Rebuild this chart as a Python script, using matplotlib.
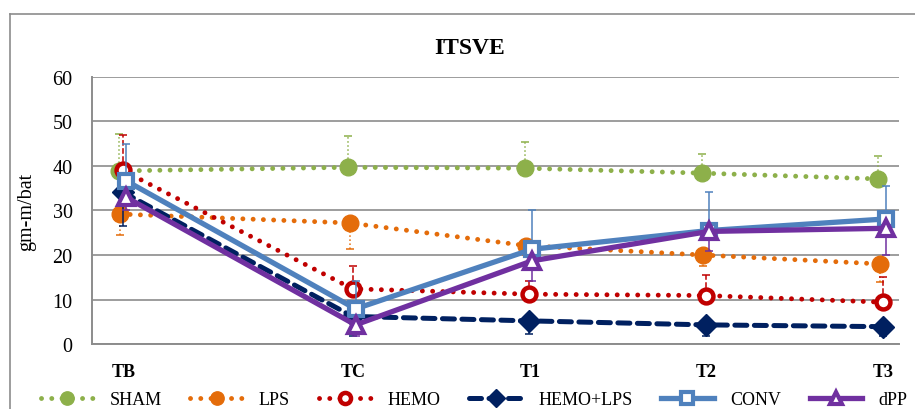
import numpy as np
import matplotlib.pyplot as plt
from matplotlib.lines import Line2D

plt.rcParams['font.family'] = ['Liberation Serif', 'DejaVu Serif']

# data
cats = ['TB', 'TC', 'T1', 'T2', 'T3']
cat_x = np.array([0, 1.3, 2.3, 3.3, 4.3])

sham = [38.9, 39.7, 39.5, 38.4, 37.1]
sham_up = [8.3, 7.1, 5.8, 4.2, 5.1]
lps = [29.2, 27.2, 22.1, 20.0, 18.0]
lps_dn = [4.6, 5.9, 2.0, 2.4, 4.0]
hemo = [39.0, 12.4, 11.2, 10.9, 9.4]
hemo_up = [8.0, 5.2, 3.0, 4.6, 5.6]
hemolps = [34.1, 6.2, 5.2, 4.3, 3.9]
hemolps_dn = [7.5, 4.4, 3.0, 2.5, 2.2]
conv = [36.7, 7.9, 21.3, 25.5, 28.1]
conv_up = [8.2, 6.3, 8.7, 8.6, 7.5]
dpp = [33.0, 4.3, 18.7, 25.3, 26.0]
dpp_dn = [3.0, 2.6, 4.5, 4.3, 6.0]

fig = plt.figure(figsize=(9.15, 4.1), dpi=100)
ax = fig.add_axes([0.1005, 0.1585, 0.882, 0.6513])

# outer chart border
fig.add_artist(Line2D([0.011, 0.011], [0, 1 - 15/410], color='#8c8c8c', lw=1.2, transform=fig.transFigure))
fig.add_artist(Line2D([0.011, 1], [1 - 15/410, 1 - 15/410], color='#8c8c8c', lw=1.2, transform=fig.transFigure))

dots = (0, (0.01, 2.1))
series = [
    # name, y, err, side, dx, color, ls, lw, marker, ms, mfc, mew, err ls
    ('SHAM', sham, sham_up, 'up', -0.006, '#8DB04A', dots, 3.5, 'o', 12, '#8DB04A', 1, ':'),
    ('LPS', lps, lps_dn, 'dn', 0.0, '#E46C0A', dots, 3.5, 'o', 12, '#E46C0A', 1, ':'),
    ('HEMO', hemo, hemo_up, 'up', 0.017, '#C00000', dots, 3.5, 'o', 10, 'white', 3.2, '--'),
    ('HEMO+LPS', hemolps, hemolps_dn, 'dn', 0.017, '#002060', (0, (2.4, 1.5)), 3.6, 'D', 11.5, '#002060', 1, '-'),
    ('CONV', conv, conv_up, 'up', 0.034, '#4F81BD', '-', 3.8, 's', 10, 'white', 3.0, '-'),
    ('dPP', dpp, dpp_dn, 'dn', 0.034, '#7030A0', '-', 3.8, '^', 11.5, 'white', 3.0, '-'),
]

handles = []
for i, (name, y, err, side, dx, c, ls, lw, mk, ms, mfc, mew, els) in enumerate(series):
    x = cat_x + dx
    err = np.array(err)
    zero = np.zeros_like(err)
    yerr = [zero, err] if side == 'up' else [err, zero]
    eb = ax.errorbar(x, y, yerr=yerr, fmt='none', ecolor=c, elinewidth=1.1,
                     capsize=3, capthick=1.1, zorder=3 + i * 2)
    eb[2][0].set_linestyle(els)
    h, = ax.plot(x, y, color=c, linestyle=ls, lw=lw, marker=mk, ms=ms,
                 mfc=mfc, mec=c, mew=mew, dash_capstyle='round',
                 zorder=4 + i * 2, label=name)
    handles.append(h)

ax.set_xlim(-0.158, 4.41)
ax.set_ylim(0, 60)
ax.set_yticks(range(0, 61, 10))
ax.set_xticks(cat_x + 0.02)
ax.set_xticklabels(cats, fontweight='bold', fontsize=13)
ax.tick_params(axis='both', length=0)
ax.tick_params(axis='y', labelsize=14.5, pad=14)
ax.tick_params(axis='x', pad=14)
ax.grid(axis='y', color='#8c8c8c', lw=1.2)
ax.set_axisbelow(True)
for s in ['top', 'right']:
    ax.spines[s].set_visible(False)
for s in ['left', 'bottom']:
    ax.spines[s].set_color('#8c8c8c')
    ax.spines[s].set_linewidth(1.4)

ax.set_ylabel('gm-m/bat', fontsize=14.5, labelpad=12)
fig.text(0.513, 1 - 48/410, 'ITSVE', ha='center', va='center', fontsize=17, fontweight='bold')

fig.legend(handles=handles, loc='center', bbox_to_anchor=(0.518, 0.022), ncol=6,
           frameon=False, fontsize=13, handlelength=2.9, handletextpad=0.9,
           columnspacing=1.6, numpoints=1, markerscale=0.8)

fig.savefig('out.png', dpi=100)
